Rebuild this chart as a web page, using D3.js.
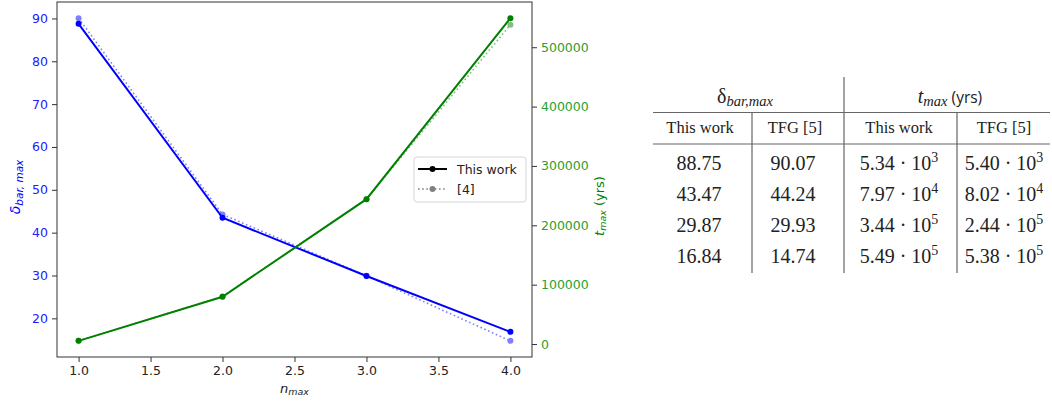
<!DOCTYPE html>
<html>
<head>
<meta charset="utf-8">
<script src="https://cdn.jsdelivr.net/npm/d3@7"></script>
<style>
  body { margin: 0; background: #fff; }
  svg text { font-family: "DejaVu Sans", sans-serif; }
  .tbl text { font-family: "Liberation Serif", "DejaVu Serif", serif; fill: #222; }
</style>
</head>
<body>
<div class="chart"></div>
<script>
// chart data
var nmax = [1, 2, 3, 4];
var deltaThis = [88.75, 43.47, 29.87, 16.84];
var deltaRef = [90.07, 44.24, 29.93, 14.74];
var tThis = [5340, 79700, 244000, 549000];
var tRef = [5400, 80200, 244000, 538000];

var xTicks = [1.0, 1.5, 2.0, 2.5, 3.0, 3.5, 4.0];
var leftTicks = [20, 30, 40, 50, 60, 70, 80, 90];
var rightTicks = [0, 100000, 200000, 300000, 400000, 500000];
var legendLabels = ['This work', '[4]'];

// table data
var colHeads = ['This work', 'TFG [5]', 'This work', 'TFG [5]'];
var deltaThisTxt = ['88.75', '43.47', '29.87', '16.84'];
var deltaRefTxt = ['90.07', '44.24', '29.93', '14.74'];
var tThisMant = ['5.34', '7.97', '3.44', '5.49'];
var tThisExp = ['3', '4', '5', '5'];
var tRefMant = ['5.40', '8.02', '2.44', '5.38'];
var tRefExp = ['3', '4', '5', '5'];

var svg = d3.select('.chart').append('svg')
  .attr('width', 1052).attr('height', 404);

var plot = {left: 57, right: 532, top: 2, bottom: 357};

function padded(vals) {
  var e = d3.extent(vals);
  var p = (e[1] - e[0]) * 0.05;
  return [e[0] - p, e[1] + p];
}

var x = d3.scaleLinear().domain(padded(nmax)).range([plot.left, plot.right]);
var yL = d3.scaleLinear().domain(padded(deltaThis.concat(deltaRef))).range([plot.bottom, plot.top]);
var yR = d3.scaleLinear().domain(padded(tThis.concat(tRef))).range([plot.bottom, plot.top]);

var blue = '#0000ff', blueLight = '#8080ff';
var green = '#008000', greenLight = '#7fbf7f';

// axes
var xAxis = svg.append('g')
  .attr('transform', 'translate(0,' + plot.bottom + ')')
  .call(d3.axisBottom(x).tickValues(xTicks).tickFormat(d3.format('.1f')).tickSizeOuter(0).tickSize(5).tickPadding(4));
var lAxis = svg.append('g')
  .attr('transform', 'translate(' + plot.left + ',0)')
  .call(d3.axisLeft(yL).tickValues(leftTicks).tickSizeOuter(0).tickSize(5).tickPadding(4));
var rAxis = svg.append('g')
  .attr('transform', 'translate(' + plot.right + ',0)')
  .call(d3.axisRight(yR).tickValues(rightTicks).tickFormat(d3.format('d')).tickSizeOuter(0).tickSize(5).tickPadding(4));

[xAxis, lAxis, rAxis].forEach(function(a) {
  a.select('.domain').remove();
  a.selectAll('line').attr('stroke', '#333').attr('stroke-width', 1);
  a.selectAll('text').attr('font-size', 12.5).attr('font-family', 'DejaVu Sans');
});
xAxis.selectAll('text').attr('fill', '#222');
lAxis.selectAll('text').attr('fill', '#2020ff');
rAxis.selectAll('text').attr('fill', '#2ca02c');

// frame
svg.append('rect')
  .attr('x', plot.left).attr('y', plot.top)
  .attr('width', plot.right - plot.left).attr('height', plot.bottom - plot.top)
  .attr('fill', 'none').attr('stroke', '#333').attr('stroke-width', 1);

// series
function series(vals, yScale, color, dotted) {
  var pts = nmax.map(function(n, i) { return [n, vals[i]]; });
  var line = d3.line().x(function(d) { return x(d[0]); }).y(function(d) { return yScale(d[1]); });
  svg.append('path').datum(pts)
    .attr('d', line)
    .attr('fill', 'none')
    .attr('stroke', color)
    .attr('stroke-width', dotted ? 1.6 : 2)
    .attr('stroke-dasharray', dotted ? '1.6,2.6' : null);
  svg.append('g').selectAll('circle').data(pts).enter().append('circle')
    .attr('cx', function(d) { return x(d[0]); })
    .attr('cy', function(d) { return yScale(d[1]); })
    .attr('r', 3)
    .attr('fill', color);
}
series(deltaRef, yL, blueLight, true);
series(tRef, yR, greenLight, true);
series(deltaThis, yL, blue, false);
series(tThis, yR, green, false);

// axis labels
var xl = svg.append('text')
  .attr('x', (plot.left + plot.right) / 2).attr('y', 393)
  .attr('text-anchor', 'middle').attr('fill', '#222').attr('font-size', 13);
xl.append('tspan').attr('font-style', 'italic').text('n');
xl.append('tspan').attr('font-style', 'italic').attr('font-size', 9.5).attr('dy', 2).text('max');

var yl = svg.append('text')
  .attr('transform', 'translate(20,187) rotate(-90)')
  .attr('text-anchor', 'middle').attr('fill', blue).attr('font-size', 14);
yl.append('tspan').attr('font-style', 'italic').text('δ');
yl.append('tspan').attr('font-style', 'italic').attr('font-size', 10.5).attr('dy', 2.5).text('bar, max');

var yr = svg.append('text')
  .attr('transform', 'translate(604,206) rotate(-90)')
  .attr('text-anchor', 'middle').attr('fill', green).attr('font-size', 13);
yr.append('tspan').attr('font-style', 'italic').text('t');
yr.append('tspan').attr('font-style', 'italic').attr('font-size', 9.5).attr('dy', 2).text('max');
yr.append('tspan').attr('dy', -2).text(' (yrs)');

// legend
var lg = svg.append('g').attr('transform', 'translate(414,157)');
lg.append('rect').attr('width', 112).attr('height', 45).attr('rx', 3)
  .attr('fill', 'rgba(255,255,255,0.8)').attr('stroke', '#d6d6d6');
legendLabels.forEach(function(lab, i) {
  var yy = 12 + i * 20;
  var col = i === 0 ? '#000' : '#808080';
  lg.append('line').attr('x1', 4).attr('x2', 33).attr('y1', yy).attr('y2', yy)
    .attr('stroke', col).attr('stroke-width', i === 0 ? 2 : 1.6)
    .attr('stroke-dasharray', i === 0 ? null : '1.6,2.6');
  lg.append('circle').attr('cx', 18.5).attr('cy', yy).attr('r', 3).attr('fill', col);
  lg.append('text').attr('x', 43).attr('y', yy + 4.5).attr('font-size', 12.5).attr('fill', '#222').text(lab);
});

// table
var tbl = svg.append('g').attr('class', 'tbl');
var lineCol = '#666';
var colEdges = [653, 752, 844, 957, 1050];
[112.5, 144].forEach(function(yy) {
  tbl.append('line').attr('x1', colEdges[0]).attr('x2', colEdges[4]).attr('y1', yy).attr('y2', yy)
    .attr('stroke', lineCol).attr('stroke-width', 1.2);
});
tbl.append('line').attr('x1', colEdges[2]).attr('x2', colEdges[2]).attr('y1', 77).attr('y2', 273)
  .attr('stroke', lineCol).attr('stroke-width', 1.2);
[colEdges[1], colEdges[3]].forEach(function(xx) {
  tbl.append('line').attr('x1', xx).attr('x2', xx).attr('y1', 112.5).attr('y2', 273)
    .attr('stroke', lineCol).attr('stroke-width', 1.2);
});

var colCenters = [700, 795, 899, 1004];

// group headers
var h1 = tbl.append('text').attr('x', 745).attr('y', 103).attr('text-anchor', 'middle').attr('font-size', 20);
h1.append('tspan').text('δ');
h1.append('tspan').attr('font-style', 'italic').attr('font-size', 14.5).attr('dy', 3).text('bar,max');
var h2 = tbl.append('text').attr('x', 950).attr('y', 103).attr('text-anchor', 'middle').attr('font-size', 20);
h2.append('tspan').attr('font-style', 'italic').text('t');
h2.append('tspan').attr('font-style', 'italic').attr('font-size', 14.5).attr('dy', 3).text('max');
h2.append('tspan').attr('dy', -3).attr('font-family', 'Open Sans, DejaVu Sans, sans-serif').attr('font-size', 15.5).text(' (yrs)');

colHeads.forEach(function(h, i) {
  tbl.append('text').attr('x', colCenters[i]).attr('y', 133).attr('text-anchor', 'middle')
    .attr('font-size', 16.5).text(h);
});

var rowY = [170, 201, 232, 263];
rowY.forEach(function(yy, r) {
  tbl.append('text').attr('x', colCenters[0] - 1).attr('y', yy).attr('text-anchor', 'middle').attr('font-size', 20).text(deltaThisTxt[r]);
  tbl.append('text').attr('x', colCenters[1] - 2).attr('y', yy).attr('text-anchor', 'middle').attr('font-size', 20).text(deltaRefTxt[r]);
  [[tThisMant, tThisExp, colCenters[2]], [tRefMant, tRefExp, colCenters[3]]].forEach(function(c) {
    var t = tbl.append('text').attr('x', c[2]).attr('y', yy).attr('text-anchor', 'middle').attr('font-size', 20);
    t.append('tspan').text(c[0][r] + ' · 10');
    t.append('tspan').attr('font-size', 14).attr('dy', -8).text(c[1][r]);
  });
});
</script>
</body>
</html>
